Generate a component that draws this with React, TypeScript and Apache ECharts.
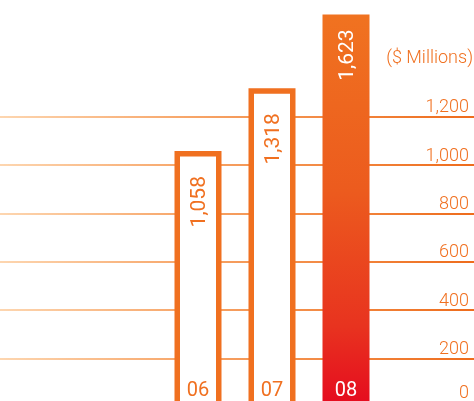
import React, { useEffect, useRef } from "react";
import * as echarts from "echarts";

const categories = ["06", "07", "08"];
const values = [1058, 1318, 1623];
const valueLabels = ["1,058", "1,318", "1,623"];
const gridTicks = { min: 0, max: 1200, interval: 200 };
const unitName = "($ Millions)";

const ORANGE = "#f07020";
const PX_PER_UNIT = 0.2419;
const ZERO_Y = 407;
const BAR_MAX = 1650;

export default function App() {
  const ref = useRef<HTMLDivElement>(null);
  useEffect(() => {
    if (!ref.current) return;
    const chart = echarts.init(ref.current, null, { renderer: "svg" });
    const barGrad = new echarts.graphic.LinearGradient(0, 0, 0, 1, [
      { offset: 0, color: "#f07220" },
      { offset: 0.45, color: "#ec5b1e" },
      { offset: 0.8, color: "#e8331f" },
      { offset: 1, color: "#e50c1f" },
    ]);
    const lineGrad = new echarts.graphic.LinearGradient(
      0,
      0,
      474,
      0,
      [
        { offset: 0, color: "#fdd6b0" },
        { offset: 0.4, color: "#f7a568" },
        { offset: 1, color: "#ee6c1c" },
      ],
      true
    );
    const data = values.map((v, i) => {
      const last = i === values.length - 1;
      return {
        value: v,
        itemStyle: last
          ? { color: barGrad, borderColor: barGrad, borderWidth: 7 }
          : { color: "#ffffff", borderColor: ORANGE, borderWidth: 5.5 },
        label: {
          color: last ? "#ffffff" : ORANGE,
          fontWeight: 400,
          distance: last ? 15 : 25,
        },
      };
    });
    chart.setOption({
      animation: false,
      grid: [
        {
          left: 161,
          right: 91,
          top: ZERO_Y - BAR_MAX * PX_PER_UNIT,
          height: BAR_MAX * PX_PER_UNIT,
          outerBoundsMode: "none",
          containLabel: false,
        },
        {
          left: 0,
          right: 0,
          top: ZERO_Y - gridTicks.max * PX_PER_UNIT,
          height: gridTicks.max * PX_PER_UNIT,
          outerBoundsMode: "none",
          containLabel: false,
        },
      ],
      graphic: [
        {
          type: "text",
          right: 1,
          top: 47,
          style: {
            text: unitName,
            fill: ORANGE,
            fontSize: 18,
            fontFamily: "Roboto",
            fontWeight: 300,
          },
        },
      ],
      xAxis: [
        {
          type: "category",
          gridIndex: 0,
          data: categories,
          axisLine: { show: false },
          axisTick: { show: false },
          axisLabel: {
            inside: true,
            margin: 8,
            fontSize: 20,
            fontFamily: "Roboto",
            color: (_v: string, idx: number) =>
              idx === categories.length - 1 ? "#ffffff" : ORANGE,
          },
          z: 5,
        },
        {
          type: "value",
          gridIndex: 1,
          show: false,
        },
      ],
      yAxis: [
        {
          type: "value",
          gridIndex: 0,
          min: 0,
          max: BAR_MAX,
          show: false,
        },
        {
          type: "value",
          gridIndex: 1,
          position: "right",
          min: gridTicks.min,
          max: gridTicks.max,
          interval: gridTicks.interval,
          axisLine: { show: false },
          axisTick: { show: false },
          splitLine: {
            show: true,
            showMinLine: true,
            showMaxLine: true,
            lineStyle: { color: lineGrad, width: 2 },
          },
          axisLabel: {
            inside: true,
            margin: 5,
            fontSize: 18,
            fontFamily: "Roboto",
            fontWeight: 300,
            color: ORANGE,
            verticalAlign: "bottom",
            padding: [0, 0, 2, 0],
            formatter: (v: number) =>
              v === 0 ? "{z|0}" : v.toLocaleString("en-US"),
            rich: {
              z: {
                fontSize: 18,
                fontFamily: "Roboto",
                fontWeight: 300,
                color: ORANGE,
                padding: [0, 0, 5, 0],
              },
            },
          },
        },
      ],
      series: [
        {
          type: "bar",
          xAxisIndex: 0,
          yAxisIndex: 0,
          barWidth: 47,
          data,
          z: 3,
          label: {
            show: true,
            position: "insideTop",
            distance: 17,
            rotate: 90,
            align: "right",
            verticalAlign: "middle",
            fontSize: 21,
            fontFamily: "Roboto",
            formatter: (p: any) => valueLabels[p.dataIndex],
          },
        },
      ],
    });
    return () => chart.dispose();
  }, []);
  return (
    <div
      ref={ref}
      style={{ position: "fixed", left: 0, top: 0, width: 474, height: 401 }}
    />
  );
}
